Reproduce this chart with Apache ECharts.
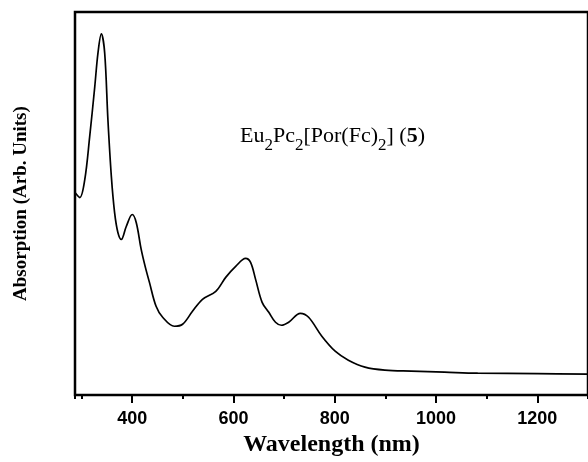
<!DOCTYPE html>
<html><head><meta charset="utf-8">
<script src="https://cdn.jsdelivr.net/npm/echarts@6/dist/echarts.min.js"></script>
<style>html,body{margin:0;padding:0;background:#fff}#c{width:588px;height:462px}</style>
</head><body><div id="c"></div>
<script>
// Wavelength (nm)
const wavelength = [287, 296.5, 306.3, 316, 326, 332.4, 339, 345.6, 352, 358.8, 365.2, 371.7, 378.4, 388.2, 400, 407.9, 417.7, 426, 434, 447.1, 460.1, 483.1, 499.4, 519, 538.7, 565, 584.6, 604.3, 623.9, 633.7, 643.6, 656.5, 669.7, 682.9, 694.6, 709, 732, 748.3, 774.4, 800.7, 826.8, 859.6, 898.9, 951.2, 1016.8, 1082.2, 1200, 1300];
// Absorption (arb. units)
const absorption = [203, 198, 216, 259, 309, 343, 362, 343, 276, 219, 183, 163, 156, 169, 181, 173, 146, 128, 113, 89, 78, 69, 71, 84, 96, 104, 118, 129, 137, 133, 116, 93, 83, 73, 70, 73, 82, 78, 59, 44, 35, 28, 25, 24, 23, 22, 21.5, 21];
const xTickLabels = ['400', '600', '800', '1000', '1200'];

const data = wavelength.map((w, i) => [w, absorption[i]]);
const chart = echarts.init(document.getElementById('c'), null, {renderer: 'canvas'});
const serif = "'Liberation Serif', 'Times New Roman', serif";
const sans = "'Liberation Sans', Arial, sans-serif";
chart.setOption({
  animation: false,
  backgroundColor: '#fff',
  grid: {left: 75, top: 12, width: 516, height: 384, show: true, borderColor: '#000', borderWidth: 2.5, backgroundColor: 'transparent'},
  xAxis: [{
    type: 'value', min: 287, max: 1300, splitNumber: 5, position: 'bottom',
    name: 'Wavelength (nm)', nameLocation: 'middle', nameGap: 35,
    nameTextStyle: {fontFamily: serif, fontWeight: 'bold', fontSize: 24, color: '#000'},
    axisLine: {show: false},
    axisTick: {show: true, length: 8, lineStyle: {color: '#000', width: 2}},
    axisLabel: {show: true, margin: 15, fontFamily: sans, fontWeight: 'bold', fontSize: 18, color: '#000',
      showMinLabel: false, showMaxLabel: false,
      formatter: v => xTickLabels.indexOf(String(v)) >= 0 ? String(v) : ''},
    splitLine: {show: false}
  }, {
    type: 'value', min: 287, max: 1300, splitNumber: 10, position: 'bottom',
    axisLine: {show: false},
    axisTick: {show: true, length: 4, lineStyle: {color: '#000', width: 2}},
    axisLabel: {show: false},
    splitLine: {show: false}
  }],
  yAxis: {
    type: 'value', min: 0, max: 384,
    name: 'Absorption (Arb. Units)', nameLocation: 'middle', nameGap: 44,
    nameTextStyle: {fontFamily: serif, fontWeight: 'bold', fontSize: 19, color: '#000'},
    axisLine: {show: false}, axisTick: {show: false}, axisLabel: {show: false}, splitLine: {show: false}
  },
  graphic: [{
    type: 'text', left: 240, top: 125,
    style: {
      text: '{n|Eu}{s|2}{n|Pc}{s|2}{n|[Por(Fc)}{s|2}{n|] (}{b|5}{n|)}',
      rich: {
        n: {fontFamily: serif, fontSize: 22, lineHeight: 22, verticalAlign: 'top', fill: '#000', color: '#000'},
        s: {fontFamily: serif, fontSize: 17, lineHeight: 17, padding: [12, 0, 0, 0], verticalAlign: 'top', fill: '#000', color: '#000'},
        b: {fontFamily: serif, fontSize: 22, lineHeight: 22, fontWeight: 'bold', verticalAlign: 'top', fill: '#000', color: '#000'}
      }
    }
  }],
  series: [{
    type: 'line', xAxisIndex: 0, data: data, showSymbol: false, smooth: 0.35,
    lineStyle: {color: '#000', width: 1.7}, clip: true
  }]
});
</script></body></html>
